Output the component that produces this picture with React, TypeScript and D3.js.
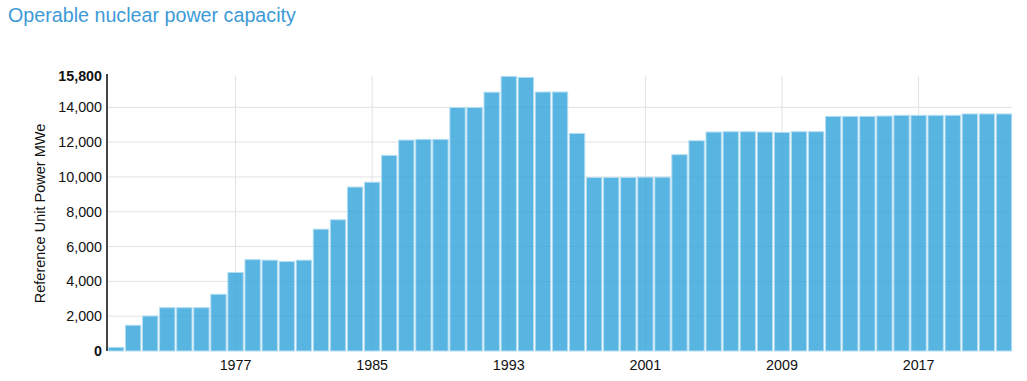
import React from "react";
import * as d3 from "d3";

const years: number[] = [
  1970, 1971, 1972, 1973, 1974, 1975, 1976, 1977, 1978, 1979,
  1980, 1981, 1982, 1983, 1984, 1985, 1986, 1987, 1988, 1989,
  1990, 1991, 1992, 1993, 1994, 1995, 1996, 1997, 1998, 1999,
  2000, 2001, 2002, 2003, 2004, 2005, 2006, 2007, 2008, 2009,
  2010, 2011, 2012, 2013, 2014, 2015, 2016, 2017, 2018, 2019,
  2020, 2021, 2022,
];

const capacity: number[] = [
  210, 1480, 2010, 2490, 2490, 2490, 3260, 4510, 5250, 5220,
  5140, 5220, 7000, 7540, 9420, 9700, 11240, 12120, 12160, 12160,
  13990, 13990, 14870, 15780, 15720, 14880, 14880, 12500, 9970, 9970,
  9970, 9990, 9990, 11280, 12080, 12580, 12600, 12600, 12580, 12560,
  12600, 12600, 13480, 13480, 13480, 13500, 13540, 13540, 13540, 13540,
  13620, 13620, 13620,
];

const yTicks: number[] = [0, 2000, 4000, 6000, 8000, 10000, 12000, 14000, 15800];
const xTickYears: number[] = [1977, 1985, 1993, 2001, 2009, 2017];

const titleText = "Operable nuclear power capacity";
const yAxisTitle = "Reference Unit Power MWe";

export default function App() {
  const W = 1027;
  const H = 381;
  const left = 108;
  const right = 1012;
  const top = 76;
  const bottom = 351;

  const x = d3
    .scaleBand<number>()
    .domain(years)
    .range([left, right])
    .paddingInner(0.1)
    .paddingOuter(0.02);
  const y = d3.scaleLinear().domain([0, 15800]).range([bottom, top]);
  const fmt = d3.format(",");

  return (
    <svg
      width={W}
      height={H}
      style={{ position: "absolute", left: 0, top: 0, display: "block" }}
      fontFamily="'Liberation Sans', Arial, sans-serif"
    >
      <rect x={0} y={0} width={W} height={H} fill="#ffffff" />
      <text x={8} y={22} fontSize={19.7} fill="#3d9ad6">
        {titleText}
      </text>

      {/* horizontal grid */}
      {yTicks
        .filter((t) => t > 0 && t < 15800)
        .map((t) => (
          <line key={"hg" + t} x1={left} x2={right} y1={y(t)} y2={y(t)} stroke="#e2e2e2" strokeWidth={1} />
        ))}
      {/* vertical grid */}
      {xTickYears.map((yr) => {
        const cx = (x(yr) ?? 0) + x.bandwidth() / 2;
        return <line key={"vg" + yr} x1={cx} x2={cx} y1={top} y2={bottom} stroke="#e2e2e2" strokeWidth={1} />;
      })}

      {/* bars */}
      {years.map((yr, i) => (
        <rect
          key={yr}
          x={x(yr)}
          y={y(capacity[i])}
          width={x.bandwidth()}
          height={bottom - y(capacity[i])}
          fill="#2ea3da"
          fillOpacity={0.8}
          stroke="#b5def3"
          strokeWidth={1}
        />
      ))}

      {/* y axis */}
      <line x1={left - 1} x2={left - 1} y1={top - 2} y2={bottom} stroke="#444" strokeWidth={2} />
      {yTicks.map((t) => (
        <text
          key={"yt" + t}
          x={left - 6}
          y={y(t)}
          dy="0.35em"
          textAnchor="end"
          fontSize={14.3}
          fontWeight={t === 0 || t === 15800 ? "bold" : "normal"}
          fill="#111"
        >
          {fmt(t)}
        </text>
      ))}
      <text
        transform={`translate(45, ${(top + bottom) / 2}) rotate(-90)`}
        textAnchor="middle"
        fontSize={14.5}
        fill="#111"
      >
        {yAxisTitle}
      </text>

      {/* x labels */}
      {xTickYears.map((yr) => (
        <text
          key={"xt" + yr}
          x={(x(yr) ?? 0) + x.bandwidth() / 2}
          y={370}
          textAnchor="middle"
          fontSize={14.3}
          fill="#111"
        >
          {yr}
        </text>
      ))}
    </svg>
  );
}
